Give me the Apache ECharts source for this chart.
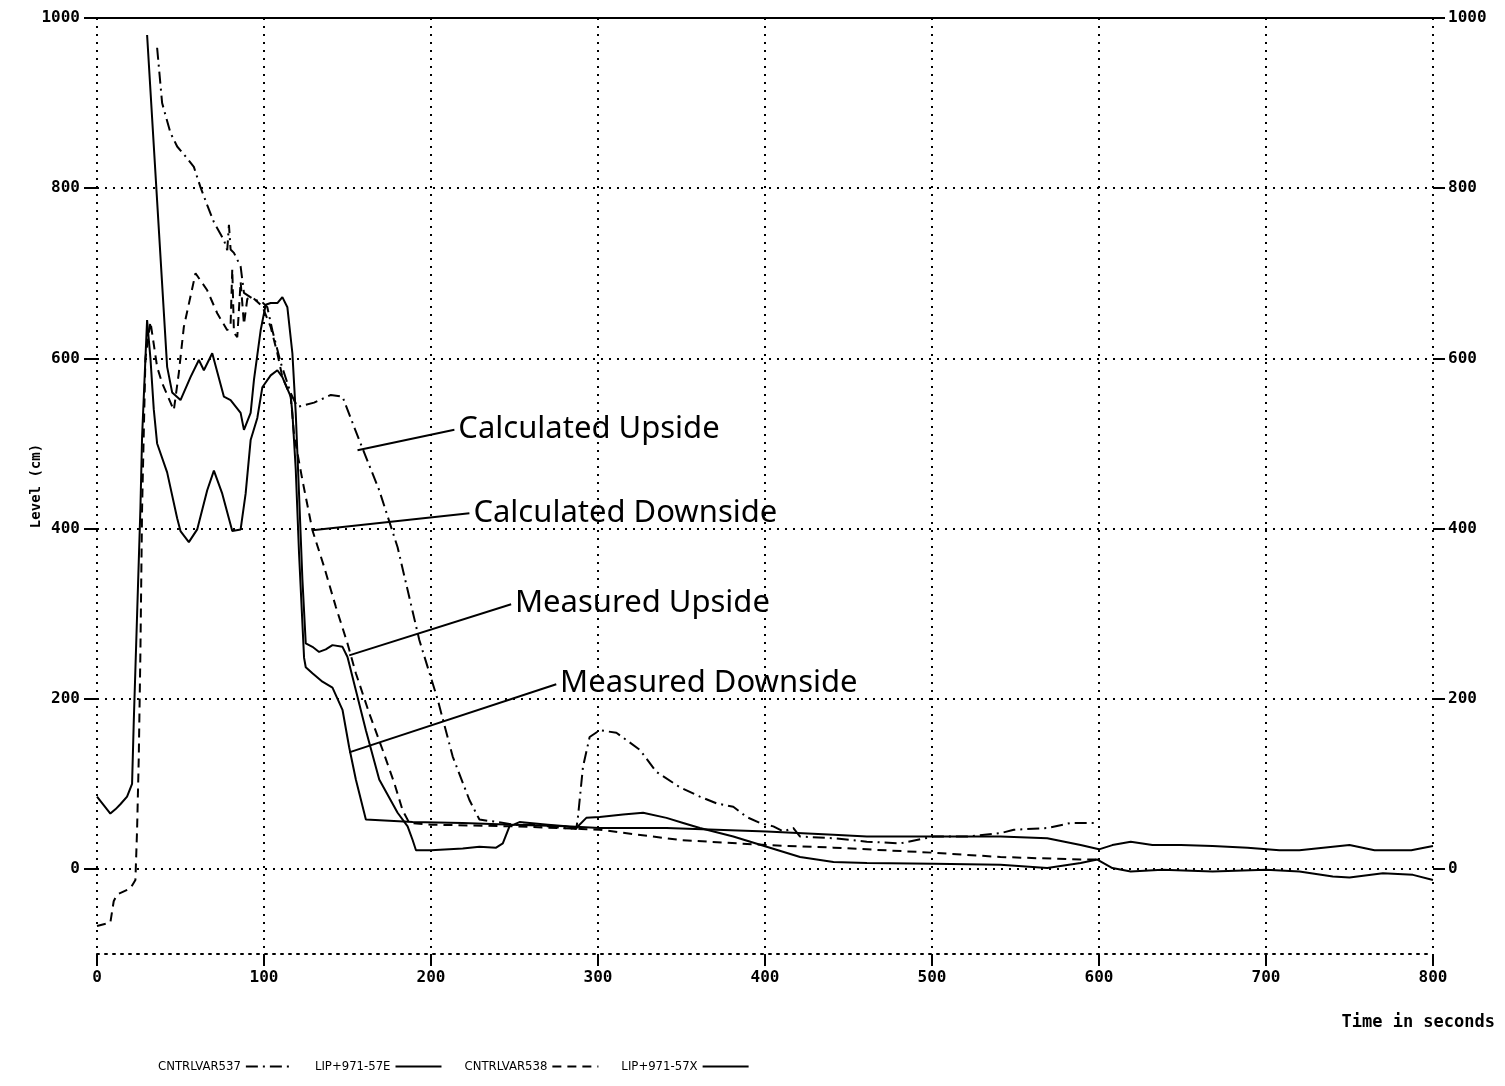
<!DOCTYPE html>
<html>
<head>
<meta charset="utf-8">
<title>Level vs time</title>
<script src="https://cdn.jsdelivr.net/npm/echarts@6/dist/echarts.min.js"></script>
<style>
  html, body { margin: 0; padding: 0; background: #fff; }
  #chart { width: 1505px; height: 1086px; }
</style>
</head>
<body>
<div id="chart"></div>
<script>
// calculated upside (dash-dot)
const calcUpTime = [36, 39, 44, 48, 54, 58, 62, 66, 70, 76, 78, 79, 80, 82, 86, 88, 94, 99, 102, 105,
  110, 116, 120, 130, 140, 147, 157, 169, 180, 193, 204, 213, 223, 229, 240, 250, 260, 270, 280, 287,
  288, 291, 295, 301, 311, 325, 335, 349, 361, 371, 381, 389, 397, 405, 411, 417, 421, 441, 461, 481,
  501, 521, 541, 549, 569, 583, 599]
const calcUpLevel = [965, 900, 865, 849, 835, 825, 801, 780, 760, 739, 727, 757, 728, 724, 708, 677, 669, 666, 660, 633,
  595, 559, 543, 548, 557, 555, 504, 445, 378, 269, 199, 132, 81, 58, 55, 52, 52, 50, 48, 47,
  61, 120, 155, 163, 160, 140, 114, 96, 85, 77, 73, 61, 54, 50, 44, 48, 38, 36, 32, 30,
  38, 38, 42, 46, 48, 54, 54]

// calculated downside (dashed)
const calcDownTime = [0, 8, 10, 12, 20, 23, 24, 25, 26, 27, 29, 32, 36, 39, 46, 49, 52, 59, 66, 72,
  78, 80, 81, 82, 84, 86, 88, 90, 93, 99, 104, 108, 111, 116, 118, 123, 129, 136, 143, 150,
  155, 163, 171, 178, 183, 187, 200, 250, 290, 301, 349, 401, 441, 501, 541, 589, 599]
const calcDownLevel = [-67, -63, -38, -30, -23, -13, 46, 130, 256, 424, 600, 643, 590, 571, 539, 583, 637, 700, 680, 653,
  633, 640, 705, 630, 625, 690, 640, 670, 672, 661, 637, 606, 578, 555, 510, 457, 398, 355, 308, 265,
  230, 183, 140, 101, 69, 54, 52, 50, 47, 46, 34, 28, 25, 19, 14, 11, 11]

// measured upside (solid)
const measUpTime = [30, 42, 45, 50, 56, 61, 64, 69, 76, 80, 86, 88, 92, 94, 98, 101, 104, 108, 111, 114,
  117, 119, 121, 123, 125, 129, 133, 137, 141, 147, 150, 155, 161, 169, 180, 186, 189, 191, 200, 219,
  229, 239, 243, 247, 253, 270, 281, 287, 293, 301, 315, 327, 341, 351, 361, 381, 401, 421, 441, 461,
  501, 541, 569, 589, 599, 608, 619, 638, 668, 700, 720, 740, 750, 770, 788, 800]
const measUpLevel = [980, 590, 560, 551, 578, 598, 586, 606, 555, 551, 536, 516, 536, 575, 633, 663, 665, 665, 672, 660,
  606, 536, 440, 340, 265, 261, 255, 258, 263, 261, 249, 210, 163, 105, 66, 50, 34, 22, 22, 24,
  26, 25, 30, 50, 55, 52, 50, 48, 60, 61, 64, 66, 60, 54, 48, 38, 26, 14, 8, 7,
  6, 5, 1, 7, 11, 1, -3, -1, -3, -1, -3, -9, -10, -5, -7, -13]

// measured downside (solid)
const measDownTime = [0, 4, 8, 11, 14, 18, 21, 22, 24, 26, 27, 29, 30, 32, 34, 36, 42, 48, 50, 55,
  60, 66, 70, 75, 81, 86, 89, 92, 96, 99, 104, 108, 111, 116, 117, 119, 121, 124, 125, 129,
  135, 141, 147, 151, 155, 161, 189, 219, 249, 281, 301, 341, 401, 441, 461, 541, 569, 589, 600, 608,
  619, 632, 649, 668, 689, 708, 720, 740, 750, 765, 787, 800]
const measDownLevel = [85, 75, 65, 70, 76, 85, 100, 172, 298, 424, 508, 600, 645, 600, 540, 500, 466, 412, 397, 384,
  399, 445, 468, 441, 397, 399, 441, 504, 530, 566, 580, 586, 578, 555, 536, 470, 370, 248, 237, 230,
  220, 213, 187, 143, 105, 58, 55, 54, 52, 50, 48, 48, 44, 40, 38, 38, 36, 28, 23, 28,
  32, 28, 28, 27, 25, 22, 22, 26, 28, 22, 22, 27]

const seriesNames = ['CNTRLVAR537', 'LIP+971-57E', 'CNTRLVAR538', 'LIP+971-57X']
const xTicks = [0, 100, 200, 300, 400, 500, 600, 700, 800]
const yTicks = [0, 200, 400, 600, 800, 1000]

// hand-written notes with their pointer lines (time, level)
const notes = [
  { name: 'Calculated Upside', from: [156, 492], to: [214, 516] },
  { name: 'Calculated Downside', from: [129, 398], to: [223, 418] },
  { name: 'Measured Upside', from: [151, 251], to: [248, 311] },
  { name: 'Measured Downside', from: [151, 137], to: [275, 217] }
]

const mono = "'DejaVu Sans Mono', monospace"
const narrow = "'DejaVu Sans Condensed', sans-serif"
const pairs = (ts, vs) => ts.map((t, i) => [t, vs[i]])
const dotted = { color: '#000', width: 2, type: [2, 6] }
const plain = v => String(v)

const lineSeries = (name, ts, vs, type) => ({
  name,
  type: 'line',
  data: pairs(ts, vs),
  symbol: 'none',
  smooth: false,
  lineStyle: { color: '#000', width: 2, type },
  itemStyle: { color: '#000' }
})

const chart = echarts.init(document.getElementById('chart'))

const series = [
  lineSeries(seriesNames[0], calcUpTime, calcUpLevel, [12, 5, 2, 5]),
  lineSeries(seriesNames[1], measUpTime, measUpLevel, 'solid'),
  lineSeries(seriesNames[2], calcDownTime, calcDownLevel, [9, 6]),
  lineSeries(seriesNames[3], measDownTime, measDownLevel, 'solid')
]
series[3].markLine = {
  silent: true,
  animation: false,
  symbol: ['none', 'none'],
  lineStyle: { color: '#000', width: 2, type: 'solid' },
  label: {
    show: true,
    position: 'end',
    distance: 4,
    formatter: p => p.name,
    color: '#000',
    fontFamily: "'Noto Sans', sans-serif",
    fontSize: 31
  },
  data: notes.map(n => [{ name: n.name, coord: n.from }, { coord: n.to }])
}

chart.setOption({
  animation: false,
  backgroundColor: '#fff',
  grid: { left: 97, right: 72, top: 18, bottom: 132 },
  legend: {
    data: seriesNames,
    left: 153,
    top: 1055,
    align: 'right',
    itemWidth: 46,
    itemHeight: 12,
    itemGap: 22,
    itemStyle: { opacity: 0 },
    textStyle: { color: '#000', fontFamily: narrow, fontSize: 13 }
  },
  xAxis: [
    {
      type: 'value', min: 0, max: 800, interval: 50, position: 'bottom',
      axisLine: { show: true, onZero: false, lineStyle: dotted },
      axisTick: { show: true, customValues: xTicks, length: 12, lineStyle: { color: '#000', width: 2 } },
      axisLabel: { customValues: xTicks, formatter: plain, color: '#000', fontFamily: mono, fontWeight: 'bold', fontSize: 16, margin: 16 },
      splitLine: { show: true, lineStyle: dotted },
      name: 'Time in seconds',
      nameLocation: 'end',
      nameGap: 62,
      nameMoveOverlap: false,
      nameTextStyle: { align: 'right', verticalAlign: 'top', padding: [60, 0, 0, 0], color: '#000', fontFamily: mono, fontWeight: 'bold', fontSize: 17 }
    },
    {
      type: 'value', min: 0, max: 800, position: 'top',
      axisLine: { show: true, onZero: false, lineStyle: { color: '#000', width: 2 } },
      axisTick: { show: false },
      axisLabel: { show: false },
      splitLine: { show: false }
    }
  ],
  yAxis: [
    {
      type: 'value', min: -100, max: 1000, interval: 100, position: 'left',
      axisLine: { show: false, onZero: false },
      axisTick: { show: true, customValues: yTicks, length: 13, lineStyle: { color: '#000', width: 2 } },
      axisLabel: { customValues: yTicks, formatter: plain, color: '#000', fontFamily: mono, fontWeight: 'bold', fontSize: 16, margin: 17 },
      splitLine: { show: true, lineStyle: dotted },
      name: 'Level (cm)',
      nameLocation: 'middle',
      nameGap: 54,
      nameRotate: 90,
      nameMoveOverlap: false,
      nameTextStyle: { color: '#000', fontFamily: mono, fontWeight: 'bold', fontSize: 14 }
    },
    {
      type: 'value', min: -100, max: 1000, interval: 100, position: 'right',
      axisLine: { show: false, onZero: false },
      axisTick: { show: true, customValues: yTicks, length: 12, lineStyle: { color: '#000', width: 2 } },
      axisLabel: { customValues: yTicks, formatter: plain, color: '#000', fontFamily: mono, fontWeight: 'bold', fontSize: 16, margin: 15 },
      splitLine: { show: false }
    }
  ],
  series
})

window.addEventListener('resize', () => chart.resize())
</script>
</body>
</html>
